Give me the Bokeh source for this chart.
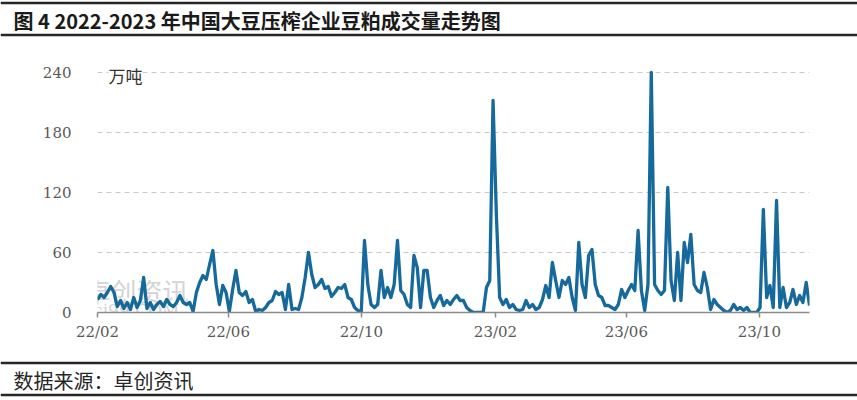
import pandas as pd
from bokeh.plotting import figure
from bokeh.layouts import column
from bokeh.models import Range1d, FixedTicker, DatetimeTickFormatter, Label, ColumnDataSource
from bokeh.core.properties import value
from bokeh.embed import file_html
from bokeh.resources import INLINE

# ---------------- data ----------------
title_text = "图 4 2022-2023 年中国大豆压榨企业豆粕成交量走势图"
source_text = "数据来源：卓创资讯"
unit_text = "万吨"
watermark_cn = "卓创资讯"
watermark_en = "sci99.COM"

start_date = "2022-02-01"
end_date = "2023-11-16"

volume = [
    13, 18, 15, 20, 26, 20, 6, 12, 4, 10,
    3, 15, 5, 12, 35, 4, 10, 3, 8, 11,
    6, 13, 8, 6, 10, 17, 10, 8, 10, 1,
    20, 30, 37, 33, 48, 62, 28, 8, 27, 20,
    1, 23, 42, 20, 17, 21, 10, 13, 1, 3,
    2, 5, 10, 12, 21, 18, 20, 3, 28, 3,
    4, 3, 15, 35, 60, 38, 25, 28, 33, 24,
    26, 16, 20, 25, 24, 28, 15, 13, 5, 2,
    0, 72, 28, 8, 5, 8, 42, 15, 25, 15,
    28, 72, 22, 18, 8, 5, 57, 45, 5, 42,
    42, 15, 5, 12, 17, 7, 12, 8, 13, 17,
    12, 12, 5, 2, 0, 0, 0, 0, 25, 32,
    212, 98, 15, 8, 13, 5, 8, 3, 2, 3,
    12, 5, 8, 3, 5, 13, 27, 15, 50, 32,
    15, 32, 28, 35, 15, 2, 70, 28, 15, 57,
    63, 28, 17, 15, 7, 7, 5, 3, 8, 23,
    15, 22, 28, 22, 82, 22, 2, 28, 240, 28,
    22, 18, 22, 125, 32, 12, 60, 12, 70, 50,
    78, 28, 22, 20, 40, 25, 3, 13, 8, 5,
    2, 0, 2, 8, 3, 5, 2, 5, 0, 0,
    0, 5, 103, 15, 27, 5, 112, 5, 25, 5,
    10, 23, 8, 17, 10, 30, 7,
]
dates = pd.date_range(start_date, end_date, periods=len(volume))

tick_dates = ["2022-02-01", "2022-06-01", "2022-10-01", "2023-02-01", "2023-06-01", "2023-10-01"]
y_ticks = [0, 60, 120, 180, 240]
y_max = 248   # a little headroom above the top tick for the unit label


def to_ms(s):
    return pd.Timestamp(s).value / 1e6


W = 857
CJK = "Noto Sans CJK SC"
DARK = "#262626"


def band(height):
    f = figure(width=W, height=height, x_range=Range1d(0, W), y_range=Range1d(height, 0),
               output_backend="svg", toolbar_location=None, min_border=0,
               x_axis_type=None, y_axis_type=None)
    f.outline_line_color = None
    f.frame_align = False
    return f


# ---------------- header ----------------
HH = 40
header = band(HH)
header.segment(x0=[0, 0], y0=[2.5, 34.5], x1=[W, W], y1=[2.5, 34.5],
               line_color=DARK, line_width=2.5)
header.text(x=[13], y=[20], text=[title_text], text_font=value(CJK),
            text_font_style="bold", text_font_size="20px", text_baseline="middle",
            text_color="#1a1a1a")

# ---------------- main chart ----------------
MH = 310
x0_ms, x1_ms = to_ms(start_date), to_ms(end_date)
src = ColumnDataSource(dict(date=dates, vol=volume))
p = figure(width=W, height=MH, x_axis_type="datetime", output_backend="svg",
           toolbar_location=None,
           x_range=Range1d(x0_ms, x1_ms), y_range=Range1d(0, y_max),
           min_border_left=97, min_border_right=48, min_border_top=24, min_border_bottom=38)
p.outline_line_color = None
p.frame_align = False

p.xgrid.visible = False
p.ygrid.grid_line_color = "#c8c8c8"
p.ygrid.grid_line_dash = "5 4"
p.ygrid.grid_line_width = 1

p.yaxis.ticker = FixedTicker(ticks=y_ticks)
p.yaxis.axis_line_color = None
p.yaxis.major_tick_line_color = None
p.yaxis.minor_tick_line_color = None
p.yaxis.major_label_standoff = 20
p.yaxis.major_label_text_font = "DejaVu Serif"
p.yaxis.major_label_text_font_size = "15px"
p.yaxis.major_label_text_color = "#595959"

p.xaxis.ticker = FixedTicker(ticks=[to_ms(d) for d in tick_dates])
fmt = "%y/%m"
p.xaxis.formatter = DatetimeTickFormatter(
    microseconds=fmt, milliseconds=fmt, seconds=fmt, minsec=fmt, minutes=fmt,
    hourmin=fmt, hours=fmt, days=fmt, months=fmt, years=fmt)
p.xaxis.axis_line_color = "#8c8c8c"
p.xaxis.axis_line_width = 1.5
p.xaxis.major_tick_line_color = "#8c8c8c"
p.xaxis.major_tick_line_width = 1.5
p.xaxis.major_tick_out = 5
p.xaxis.major_tick_in = 0
p.xaxis.minor_tick_line_color = None
p.xaxis.major_label_standoff = 5
p.xaxis.major_label_text_font = "DejaVu Serif"
p.xaxis.major_label_text_font_size = "15px"
p.xaxis.major_label_text_color = "#595959"

# watermark (behind the line)
p.add_layout(Label(x=to_ms("2022-01-20"), y=22, text=watermark_cn, text_font=CJK,
                   text_font_size="26px", text_color="#c8c8c8", text_alpha=0.8,
                   text_baseline="middle", level="underlay"))
p.add_layout(Label(x=to_ms("2022-01-20"), y=3, text=watermark_en, text_font="DejaVu Serif",
                   text_font_size="17px", text_color="#c8c8c8", text_alpha=0.8,
                   text_baseline="middle", level="underlay"))

p.line(x="date", y="vol", source=src, line_color="#16699b", line_width=3.3,
       line_join="round")

p.add_layout(Label(x=to_ms("2022-02-11"), y=237, text=unit_text, text_font=CJK,
                   text_font_size="17px", text_color="#333333", text_baseline="middle",
                   background_fill_color="white"))

# ---------------- footer ----------------
FH = 400 - HH - MH
footer = band(FH)
footer.segment(x0=[0, 0], y0=[12.5, 44.5], x1=[W, W], y1=[12.5, 44.5],
               line_color=DARK, line_width=2.5)
footer.text(x=[13], y=[30], text=[source_text], text_font=value(CJK),
            text_font_size="20px", text_baseline="middle", text_color=DARK)

layout = column(header, p, footer, spacing=0)
open("out.html", "w").write(file_html(layout, INLINE))
